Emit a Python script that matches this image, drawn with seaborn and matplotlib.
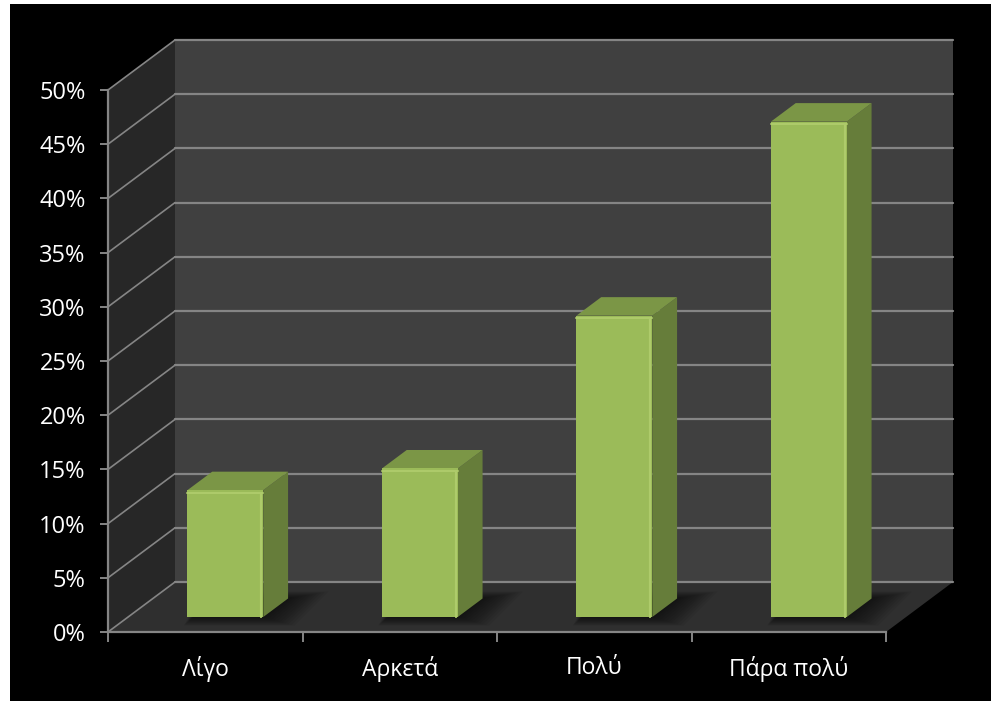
import matplotlib
matplotlib.use("Agg")
import matplotlib.pyplot as plt
from matplotlib.patches import Polygon, Rectangle
import seaborn as sns
import pandas as pd

# ---- data -------------------------------------------------------------
categories = ["Λίγο", "Αρκετά", "Πολύ", "Πάρα πολύ"]
values = [11.7, 13.7, 27.8, 45.7]
y_ticks = [0, 5, 10, 15, 20, 25, 30, 35, 40, 45, 50]
y_tick_labels = [f"{t}%" for t in y_ticks]

# ---- style ------------------------------------------------------------
sns.set_theme(style="white")
plt.rcParams["font.family"] = ["Open Sans", "DejaVu Sans"]

FRONT = "#9bbb59"
SIDE = "#667d3a"
TOP = "#7b9646"
BACK_WALL = "#404040"
SIDE_WALL = "#272727"
FLOOR = "#2f2f2f"
GRID = "#858585"

W, H, DPI = 991, 701, 100
fig = plt.figure(figsize=(W / DPI, H / DPI), dpi=DPI, facecolor="white")
fig.patches.append(Rectangle((10 / W, 0), 1, (H - 4) / H, transform=fig.transFigure,
                             facecolor="black", edgecolor="none", zorder=-20))

# front plane of the plot box
left, right, top, bottom = 108, 886, 90, 632
ax = fig.add_axes([left / W, (H - bottom) / H, (right - left) / W, (bottom - top) / H])
ax.set_facecolor("none")

df = pd.DataFrame({"cat": categories, "val": values})
bar_w = 0.39
sns.barplot(data=df, x="cat", y="val", order=categories, color=FRONT, width=bar_w,
            saturation=1, ax=ax, zorder=5)

ax.set_xlim(-0.5, 3.5)
ax.set_ylim(0, 50)

# depth vector of the 3D box expressed in data units
px_per_x = (right - left) / 4.0
px_per_y = (bottom - top) / 50.0
DX = 67 / px_per_x
DY = 50 / px_per_y

x0, x1 = -0.5, 3.5
kw = dict(clip_on=False, transform=ax.transData)

# walls and floor
ax.add_patch(Polygon([(x0 + DX, DY), (x1 + DX, DY), (x1 + DX, 50 + DY), (x0 + DX, 50 + DY)],
                     facecolor=BACK_WALL, edgecolor="none", zorder=0, **kw))
ax.add_patch(Polygon([(x0, 0), (x0 + DX, DY), (x0 + DX, 50 + DY), (x0, 50)],
                     facecolor=SIDE_WALL, edgecolor="none", zorder=0, **kw))
ax.add_patch(Polygon([(x0, 0), (x1, 0), (x1 + DX, DY), (x0 + DX, DY)],
                     facecolor=FLOOR, edgecolor="none", zorder=0.5, **kw))

# gridlines on the back wall and the side wall
for t in y_ticks:
    ax.plot([x0 + DX, x1 + DX], [t + DY, t + DY], color=GRID, lw=1.6, zorder=1, **kw)
    ax.plot([x0, x0 + DX], [t, t + DY], color=GRID, lw=1.2, zorder=1, **kw)

# turn flat bars into boxes standing inside the box
depth0 = 0.30
depth_b = 0.37
bdx, bdy = depth_b * DX, depth_b * DY
bars = [p for p in ax.patches if isinstance(p, Rectangle)]
for patch in bars:
    h = patch.get_height()
    bx = patch.get_x() + depth0 * DX
    by = depth0 * DY
    w = patch.get_width()
    patch.set_x(bx)
    patch.set_y(by)
    patch.set_edgecolor("none")
    patch.set_clip_on(False)

    # soft shadow on the floor, built from stacked translucent layers
    n = 12
    for i in range(n):
        g = 1 - i / (n - 1)
        ex, ey = 0.16 * g, 1.6 * g
        ax.add_patch(Polygon([(bx + 0.03 - ex * 0.3, by - ey * 0.5),
                              (bx + w + ex, by - ey * 0.5),
                              (bx + w + bdx + ex * 1.3, by + bdy + ey * 0.4),
                              (bx + bdx - ex * 0.3, by + bdy + ey * 0.4)],
                             facecolor="black", edgecolor="none", alpha=0.06,
                             zorder=2, **kw))

    ax.add_patch(Polygon([(bx + w, by), (bx + w + bdx, by + bdy),
                          (bx + w + bdx, by + h + bdy), (bx + w, by + h)],
                         facecolor=SIDE, edgecolor="none", zorder=4, **kw))
    ax.add_patch(Polygon([(bx, by + h), (bx + w, by + h),
                          (bx + w + bdx, by + h + bdy), (bx + bdx, by + h + bdy)],
                         facecolor=TOP, edgecolor="none", zorder=4, **kw))
    # light bevel along the front edges
    ax.plot([bx + w - 0.01, bx + w - 0.01], [by, by + h - 0.3], color="#aecb6b", lw=1.6, zorder=6, **kw)
    ax.plot([bx, bx + w], [by + h - 0.25, by + h - 0.25], color="#aecb6b", lw=1.4, zorder=6, **kw)

# axes lines and ticks
for side in ["top", "right"]:
    ax.spines[side].set_visible(False)
for side in ["left", "bottom"]:
    ax.spines[side].set_color(GRID)
    ax.spines[side].set_linewidth(1.6)
    ax.spines[side].set_zorder(7)

ax.set_yticks(y_ticks)
ax.set_yticklabels(y_tick_labels)
ax.set_xticks(range(len(categories)))
ax.set_xticklabels(categories)
ax.set_xticks([x0 + i for i in range(5)], minor=True)
ax.tick_params(axis="y", which="major", direction="out", length=6, width=1.4,
               color=GRID, labelcolor="white", labelsize=17, pad=10, left=True)
ax.tick_params(axis="x", which="major", length=0, labelcolor="white", labelsize=16.5, pad=17)
ax.tick_params(axis="x", which="minor", direction="out", length=7, width=1.4,
               color=GRID, bottom=True)
ax.set_xlabel("")
ax.set_ylabel("")
ax.grid(False)

fig.savefig("out.png", dpi=DPI, facecolor=fig.get_facecolor())
